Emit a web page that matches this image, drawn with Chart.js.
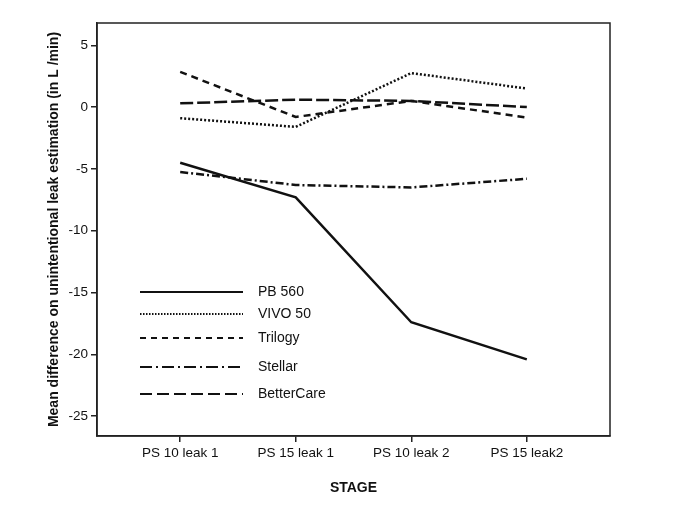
<!DOCTYPE html>
<html>
<head>
<meta charset="utf-8">
<script src="https://cdn.jsdelivr.net/npm/chart.js@4"></script>
<style>
  html, body { margin: 0; padding: 0; background: #fff; }
  canvas { display: block; }
</style>
</head>
<body>
<canvas id="chart" width="685" height="513"></canvas>
<script>
const stages = ['PS 10 leak 1', 'PS 15 leak 1', 'PS 10 leak 2', 'PS 15 leak2'];

const pb560 = [-4.5, -7.3, -17.4, -20.4];
const vivo50 = [-0.9, -1.6, 2.75, 1.5];
const trilogy = [2.85, -0.8, 0.5, -0.85];
const stellar = [-5.25, -6.3, -6.5, -5.8];
const betterCare = [0.3, 0.6, 0.5, 0.0];

const yTicks = [5, 0, -5, -10, -15, -20, -25];

const series = [
    { label: 'PB 560', values: pb560, dash: [], legendDash: [] },
    { label: 'VIVO 50', values: vivo50, dash: [2, 2], legendDash: [1.5, 1.5] },
    { label: 'Trilogy', values: trilogy, dash: [7, 5], legendDash: [6, 5] },
    { label: 'Stellar', values: stellar, dash: [8, 3, 2, 3], legendDash: [12, 4, 2, 4] },
    { label: 'BetterCare', values: betterCare, dash: [13, 4], legendDash: [12, 5] },
];

// legend rows drawn inside the plot, lower left
const legendRows = [269, 291, 315, 344, 371];

const frameAndLegend = {
    id: 'frameAndLegend',
    afterDraw(chart) {
        const { ctx, chartArea: a } = chart;
        ctx.save();
        ctx.strokeStyle = '#222';
        ctx.lineWidth = 1.5;
        ctx.strokeRect(a.left, a.top, a.right - a.left, a.bottom - a.top);

        ctx.font = '14px "Liberation Sans", Arial, sans-serif';
        ctx.fillStyle = '#111';
        ctx.textBaseline = 'middle';
        series.forEach((s, i) => {
            const y = a.top + legendRows[i];
            ctx.beginPath();
            ctx.setLineDash(s.legendDash);
            ctx.lineWidth = 2;
            ctx.strokeStyle = '#111';
            ctx.moveTo(a.left + 43, y);
            ctx.lineTo(a.left + 146, y);
            ctx.stroke();
            ctx.fillText(s.label, a.left + 161, y);
        });
        ctx.restore();
    }
};

new Chart(document.getElementById('chart'), {
    type: 'line',
    data: {
        datasets: series.map((s) => ({
            label: s.label,
            data: s.values.map((v, i) => ({ x: i, y: v })),
            borderColor: '#111',
            borderWidth: 2.5,
            borderDash: s.dash,
            pointRadius: 0,
            tension: 0,
            fill: false,
        })),
    },
    options: {
        responsive: false,
        animation: false,
        devicePixelRatio: 1,
        layout: { padding: { top: 23, right: 75, bottom: 0, left: 0 } },
        scales: {
            x: {
                type: 'linear',
                min: -0.72,
                max: 3.72,
                afterBuildTicks: (scale) => {
                    scale.ticks = stages.map((s, i) => ({ value: i }));
                },
                afterFit: (scale) => { scale.height = 77; },
                ticks: {
                    callback: (v) => stages[v],
                    color: '#111',
                    font: { family: '"Liberation Sans", Arial, sans-serif', size: 13.5 },
                    padding: 3,
                    maxRotation: 0,
                },
                grid: { drawOnChartArea: false, drawTicks: true, tickLength: 6, color: '#222', lineWidth: 1.5 },
                border: { display: true, color: '#222', width: 1.5 },
                title: {
                    display: true,
                    text: 'STAGE',
                    color: '#111',
                    font: { family: '"Liberation Sans", Arial, sans-serif', size: 14, weight: 'bold' },
                    padding: { top: 0, bottom: 16 },
                },
            },
            y: {
                min: -26.6,
                max: 6.8,
                afterBuildTicks: (scale) => {
                    scale.ticks = yTicks.map((v) => ({ value: v }));
                },
                afterFit: (scale) => { scale.width = 97; },
                ticks: {
                    color: '#111',
                    font: { family: '"Liberation Sans", Arial, sans-serif', size: 13.5 },
                    padding: 3,
                },
                grid: { drawOnChartArea: false, drawTicks: true, tickLength: 6, color: '#222', lineWidth: 1.5 },
                border: { display: true, color: '#222', width: 1.5 },
                title: {
                    display: true,
                    text: 'Mean difference on unintentional leak estimation (in L /min)',
                    color: '#111',
                    font: { family: '"Liberation Sans", Arial, sans-serif', size: 14, weight: 'bold' },
                    padding: { top: 46, bottom: 0 },
                },
            },
        },
        plugins: {
            legend: { display: false },
            tooltip: { enabled: false },
        },
    },
    plugins: [frameAndLegend],
});
</script>
</body>
</html>
